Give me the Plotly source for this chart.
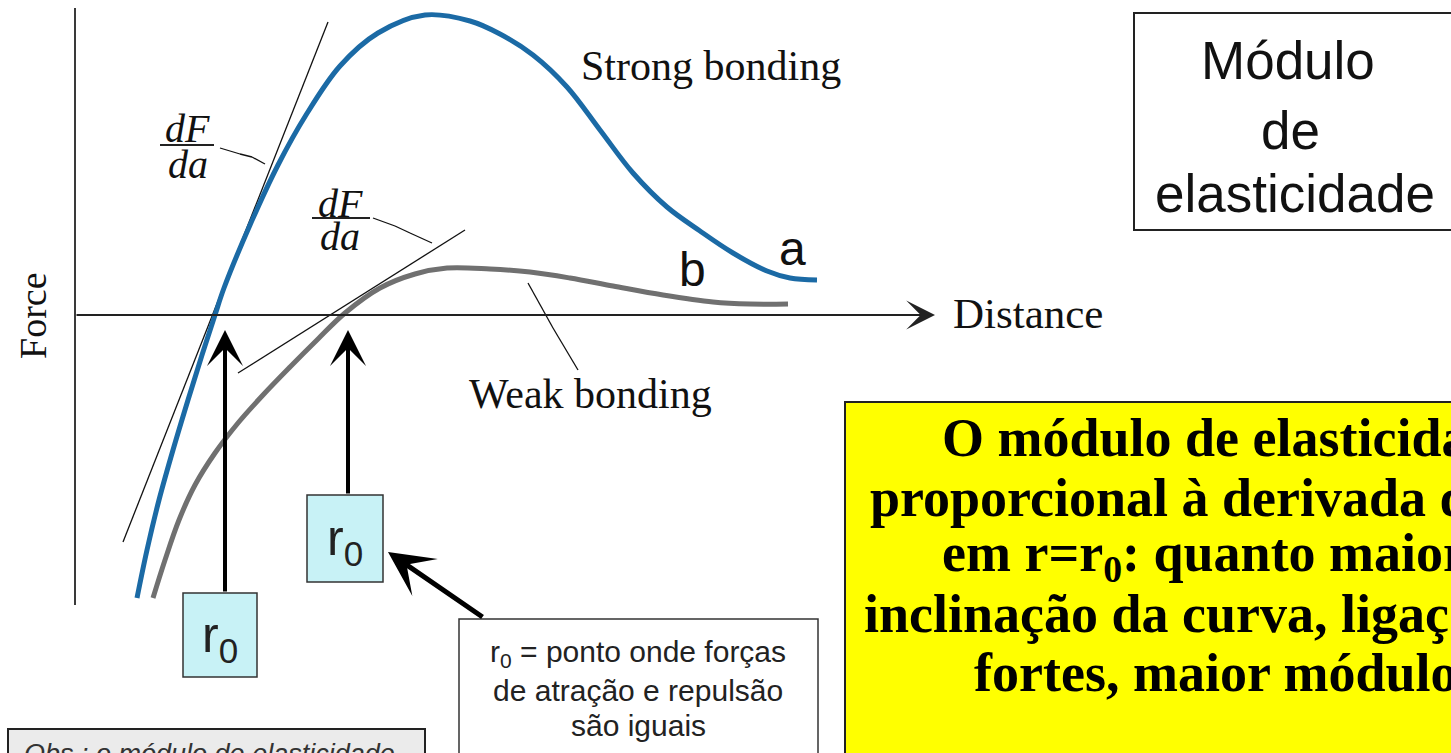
import plotly.graph_objects as go

# ---------------- data (distance / force units; origin at the axis crossing) ----------------
strong_distance = [62, 72, 84, 98, 113, 127, 140, 149, 175, 203, 231, 265, 303, 350, 395,
                   425, 458, 492, 525, 558, 592, 625, 658, 692, 715, 742]
strong_force = [-283, -235, -185, -135, -85, -40, 0, 27, 90, 150, 200, 249, 282, 300, 294,
                281, 260, 228, 185, 142, 108, 84, 62, 44, 37, 35]

weak_distance = [78, 90, 104, 120, 140, 163, 188, 215, 243, 270, 305, 340, 372, 415, 455,
                 495, 538, 588, 638, 675, 713]
weak_force = [-283, -245, -205, -170, -138, -108, -80, -52, -24, 2, 27, 41, 47, 46, 43,
              37, 29, 20, 13, 11, 11]

strong_tangent_distance = [48, 253]
strong_tangent_force = [-227, 293]
weak_tangent_distance = [163, 390]
weak_tangent_force = [-58, 85]

curve_labels = ["a", "b"]
axis_labels = ["Distance", "Force"]
bond_labels = ["Strong bonding", "Weak bonding"]

W, H = 1451, 753          # page size
OX, OY = 75, 315          # pixel position of the axis origin


def X(px):
    return px - OX


def Y(py):
    return OY - py


SERIF = "Times New Roman, Liberation Serif, serif"
SANS = "Arial, Liberation Sans, sans-serif"

fig = go.Figure()

# tangent lines
fig.add_trace(go.Scatter(x=strong_tangent_distance, y=strong_tangent_force, mode="lines",
                         line=dict(color="#111111", width=1.3), hoverinfo="skip"))
fig.add_trace(go.Scatter(x=weak_tangent_distance, y=weak_tangent_force, mode="lines",
                         line=dict(color="#111111", width=1.3), hoverinfo="skip"))
# curves
fig.add_trace(go.Scatter(x=weak_distance, y=weak_force, mode="lines",
                         line=dict(color="#707070", width=5, shape="spline", smoothing=1.0),
                         hoverinfo="skip"))
fig.add_trace(go.Scatter(x=strong_distance, y=strong_force, mode="lines",
                         line=dict(color="#1b6aa5", width=5, shape="spline", smoothing=1.0),
                         hoverinfo="skip"))

shapes = []


def rect(x0, y0, x1, y1, fill, color="#222222", width=2):
    shapes.append(dict(type="rect", xref="x", yref="y", x0=X(x0), x1=X(x1), y0=Y(y0), y1=Y(y1),
                       fillcolor=fill, line=dict(color=color, width=width), layer="above"))


def seg(pts, color="#111111", width=1.3):
    for (a, b), (c, d) in zip(pts[:-1], pts[1:]):
        shapes.append(dict(type="line", xref="x", yref="y", x0=X(a), y0=Y(b), x1=X(c), y1=Y(d),
                           line=dict(color=color, width=width), layer="above"))


# vertical (Force) axis
seg([(75, 8), (75, 605)], color="#3a3a3a", width=2)
# leaders
seg([(220, 148), (240, 154), (252, 157), (265, 164)])
seg([(373, 218), (395, 226), (410, 233), (432, 243)])
seg([(528, 283), (553, 328), (578, 370)])
# fraction bars
seg([(160, 145), (214, 145)], color="#222222", width=2)
seg([(312, 218), (370, 218)], color="#222222", width=2)

# boxes
rect(183, 593, 257, 677, "#c8f2f6", "#333333", 1.5)
rect(307, 495, 383, 582, "#c8f2f6", "#333333", 1.5)
rect(459, 619, 818, 775, "white", "#333333", 1.5)
rect(8, 729, 425, 775, "#ebebeb", "#222222", 2)
rect(1134, 13, 1475, 230, "white", "#222222", 2)
rect(845, 402, 1475, 775, "#ffff00", "#222222", 2)

ann = []


def text(px, py, t, size, family=SANS, color="#111111", xanchor="center", yanchor="middle",
         angle=0, style="normal"):
    ann.append(dict(x=X(px), y=Y(py), xref="x", yref="y", text=t, showarrow=False,
                    xanchor=xanchor, yanchor=yanchor, textangle=angle,
                    font=dict(family=family, size=size, color=color, style=style)))


def arrow(tx, ty, fx, fy, width, size, color="#000000", head=3):
    ann.append(dict(x=X(tx), y=Y(ty), ax=X(fx), ay=Y(fy), xref="x", yref="y", axref="x",
                    ayref="y", text="", showarrow=True, arrowhead=head, arrowsize=size,
                    arrowwidth=width, arrowcolor=color))


# horizontal (Distance) axis with arrow
arrow(935, 315, 75, 315, 2, 2.4, "#222222", 3)
# r0 arrows
arrow(225, 330, 225, 593, 4, 1.5)
arrow(348, 330, 348, 495, 4, 1.5)
arrow(388, 552, 484, 618, 5, 1.5)

# labels on the graph
text(711, 66, bond_labels[0], 42, SERIF)
text(590, 394, bond_labels[1], 42, SERIF)
text(1028, 313, axis_labels[0], 43, SERIF)
text(33, 316, axis_labels[1], 38, SERIF, angle=-90)
text(792, 248, curve_labels[0], 48, SANS)
text(692, 269, curve_labels[1], 48, SANS)
text(187, 128, "dF", 40, SERIF, style="italic")
text(188, 164, "da", 40, SERIF, style="italic")
text(340, 203, "dF", 40, SERIF, style="italic")
text(340, 236, "da", 40, SERIF, style="italic")
text(220, 638, "r<sub>0</sub>", 50, SANS, color="#222222")
text(345, 541, "r<sub>0</sub>", 50, SANS, color="#222222")

# Módulo de elasticidade box
text(1288, 60, "Módulo", 53, SANS)
text(1290, 130, "de", 53, SANS)
text(1295, 193, "elasticidade", 53, SANS)

# definition box
text(638, 653, "r<sub>0</sub> = ponto onde forças", 30, SANS, color="#222222")
text(638, 690, "de atração e repulsão", 30, SANS, color="#222222")
text(638, 725, "são iguais", 30, SANS, color="#222222")

# Obs box (cut by the page)
text(22, 736.5, "Obs.: o módulo de elasticidade", 27, SANS, color="#333333",
     xanchor="left", yanchor="top", style="italic")

# yellow explanation box (cut by the page)
yellow_lines = [
    (940, 438, "<b>O módulo de elasticidade é</b>"),
    (868, 498, "<b>proporcional à derivada da força</b>"),
    (940, 556, "<b>em r=r<sub>0</sub>: quanto maior a</b>"),
    (862, 614, "<b>inclinação da curva, ligações mais</b>"),
    (972, 673, "<b>fortes, maior módulo</b>"),
]
for px, py, t in yellow_lines:
    text(px, py, t, 54, SERIF, color="#000000", xanchor="left")

fig.update_layout(
    width=W, height=H,
    margin=dict(l=0, r=0, t=0, b=0),
    paper_bgcolor="white", plot_bgcolor="white",
    showlegend=False, hovermode=False,
    xaxis=dict(range=[X(0), X(W)], visible=False, fixedrange=True),
    yaxis=dict(range=[Y(H), Y(0)], visible=False, fixedrange=True),
    shapes=shapes, annotations=ann,
)

# the page itself: no body margin and no scrollbars, so the figure fills the window exactly
fig.write_html("out.html",
               config={"displayModeBar": False, "staticPlot": True},
               post_script="document.body.style.margin='0';"
                           "document.body.style.overflow='hidden';")
